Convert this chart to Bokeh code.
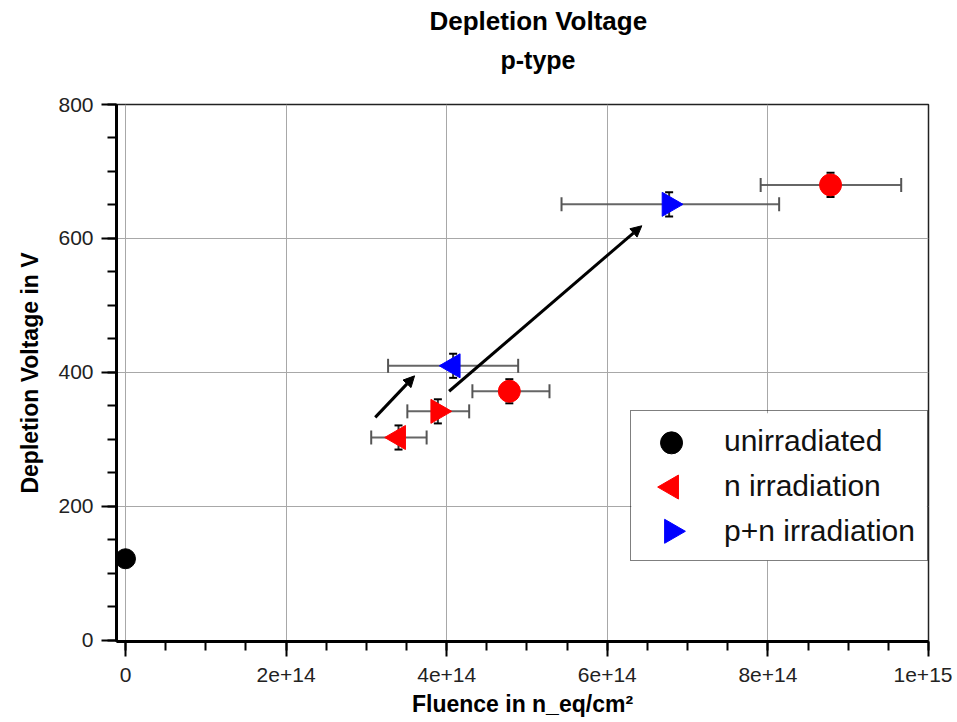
from bokeh.plotting import figure
from bokeh.models import (Range1d, Whisker, ColumnDataSource, Arrow, NormalHead,
                          Legend, LegendItem, Title, FixedTicker)
from bokeh.embed import file_html
from bokeh.resources import INLINE

FONT = "Liberation Sans"

# ---- data ----
unirr_x = [0.0]
unirr_y = [122]

n_left_x = [3.40e14]
n_left_y = [303]
n_left_xlo = [3.06e14]
n_left_xhi = [3.75e14]

n_right_x = [3.89e14]
n_right_y = [342]
n_right_xlo = [3.51e14]
n_right_xhi = [4.28e14]

n_circ_x = [4.78e14, 8.78e14]
n_circ_y = [372, 680]
n_circ_xlo = [4.32e14, 7.91e14]
n_circ_xhi = [5.28e14, 9.66e14]

pn_left_x = [4.08e14]
pn_left_y = [410]
pn_left_xlo = [3.27e14]
pn_left_xhi = [4.89e14]

pn_right_x = [6.77e14]
pn_right_y = [651]
pn_right_xlo = [5.43e14]
pn_right_xhi = [8.14e14]

y_err = 18

arrow_x0 = [3.11e14, 4.03e14]
arrow_y0 = [333, 372]
arrow_x1 = [3.60e14, 6.43e14]
arrow_y1 = [395, 619]

x_ticks = [0, 2e14, 4e14, 6e14, 8e14, 1e15]
x_tick_labels = ["0", "2e+14", "4e+14", "6e+14", "8e+14", "1e+15"]
y_ticks = [0, 200, 400, 600, 800]

legend_labels = ["unirradiated", "n irradiation", "p+n irradiation"]
legend_colors = ["black", "red", "blue"]
legend_angles = [0.0, 1.5708, -1.5708]
legend_markers = ["circle", "triangle", "triangle"]
legend_sizes = [22, 24, 24]
# legend layout anchors (key positions and white backing panel)
legend_key_x = [6.80e14, 6.80e14, 6.80e14]
legend_key_y = [295, 229, 163]
legend_panel = dict(left=6.30e14, right=0.998e15, bottom=119, top=339)

p = figure(width=952, height=720, output_backend="svg", toolbar_location=None,
           x_range=Range1d(-1.12e13, 1.0e15), y_range=Range1d(-1.5, 800),
           min_border_left=116, min_border_right=24, min_border_top=104,
           min_border_bottom=79)
p.title = None
p.background_fill_color = "white"
p.border_fill_color = "white"
p.outline_line_color = "#222222"
p.outline_line_width = 1.5

# axes
for ax in (p.xaxis[0], p.yaxis[0]):
    ax.axis_line_width = 3
    ax.axis_line_color = "black"
    ax.major_tick_line_width = 2
    ax.minor_tick_line_width = 2
    ax.major_tick_out = 15
    ax.major_tick_in = 0
    ax.minor_tick_out = 9
    ax.minor_tick_in = 0
    ax.major_label_text_font = FONT
    ax.major_label_text_font_size = "21px"
    ax.major_label_text_color = "#222222"
    ax.axis_label_text_font = FONT
    ax.axis_label_text_font_size = "23px"
    ax.axis_label_text_font_style = "bold"
    ax.axis_label_text_color = "black"

p.xaxis.ticker = FixedTicker(ticks=x_ticks,
                             minor_ticks=[i * 0.5e14 for i in range(0, 21)])
p.xaxis.major_label_overrides = {t: l for t, l in zip(x_ticks, x_tick_labels)}
p.xaxis.major_label_standoff = 11
p.xaxis.axis_label = "Fluence in n_eq/cm²"
p.xaxis.axis_label_standoff = 6

p.yaxis.ticker = FixedTicker(ticks=y_ticks, minor_ticks=[i * 50 for i in range(0, 17)])
p.yaxis.major_label_standoff = 8
p.yaxis.axis_label = "Depletion Voltage in V"
p.yaxis.axis_label_standoff = 12

p.xgrid.ticker = FixedTicker(ticks=x_ticks)
p.ygrid.ticker = FixedTicker(ticks=y_ticks)
p.grid.grid_line_color = "#a8a8a8"
p.grid.grid_line_width = 1

# white backing panel for the legend (covers grid lines)
p.quad(left=[legend_panel["left"]], right=[legend_panel["right"]],
       bottom=[legend_panel["bottom"]], top=[legend_panel["top"]],
       fill_color="white", line_alpha=0)

# markers
p.scatter(unirr_x, unirr_y, marker="circle", size=20, color="black")
p.scatter(n_left_x, n_left_y, marker="triangle", angle=1.5708, size=24, color="red")
p.scatter(n_right_x, n_right_y, marker="triangle", angle=-1.5708, size=24, color="red")
p.scatter(n_circ_x, n_circ_y, marker="circle", size=22, color="red")
p.scatter(pn_left_x, pn_left_y, marker="triangle", angle=1.5708, size=24, color="blue")
p.scatter(pn_right_x, pn_right_y, marker="triangle", angle=-1.5708, size=24, color="blue")

# error bars
all_x = n_left_x + n_right_x + n_circ_x + pn_left_x + pn_right_x
all_y = n_left_y + n_right_y + n_circ_y + pn_left_y + pn_right_y
all_xlo = n_left_xlo + n_right_xlo + n_circ_xlo + pn_left_xlo + pn_right_xlo
all_xhi = n_left_xhi + n_right_xhi + n_circ_xhi + pn_left_xhi + pn_right_xhi
src = ColumnDataSource(dict(
    x=all_x, y=all_y, xlo=all_xlo, xhi=all_xhi,
    ylo=[v - y_err for v in all_y], yhi=[v + y_err for v in all_y]))

wx = Whisker(base="y", lower="xlo", upper="xhi", source=src, dimension="width",
             line_color="#555555", line_width=2, line_alpha=0.9)
for h in (wx.upper_head, wx.lower_head):
    h.size = 14
    h.line_color = "#555555"
    h.line_width = 2
p.add_layout(wx)

wy = Whisker(base="x", lower="ylo", upper="yhi", source=src, dimension="height",
             line_color="black", line_width=2, line_alpha=0.8)
for h in (wy.upper_head, wy.lower_head):
    h.size = 8
    h.line_color = "black"
    h.line_width = 2
p.add_layout(wy)

# arrows
for x0, y0, x1, y1 in zip(arrow_x0, arrow_y0, arrow_x1, arrow_y1):
    p.add_layout(Arrow(end=NormalHead(size=11, fill_color="black", line_color="black"),
                       x_start=x0, y_start=y0, x_end=x1, y_end=y1,
                       line_width=3, line_color="black"))

# legend: border + labels by Bokeh (transparent), keys drawn as scatter glyphs
dummy_src = ColumnDataSource(dict(x=legend_key_x, y=legend_key_y))
r_dummy = p.scatter("x", "y", source=dummy_src, size=1, fill_alpha=0, line_alpha=0)
legend = Legend(items=[LegendItem(label=lab, renderers=[r_dummy], index=i)
                       for i, lab in enumerate(legend_labels)],
                location=(514, 80))
legend.glyph_width = 70
legend.glyph_height = 45
legend.spacing = 0
legend.padding = 7
legend.margin = 0
legend.label_standoff = 16
legend.label_width = 196
legend.label_height = 45
legend.label_text_font = FONT
legend.label_text_font_size = "30px"
legend.label_text_color = "#111111"
legend.border_line_color = "black"
legend.border_line_width = 1.5
legend.background_fill_color = "white"
legend.background_fill_alpha = 0
p.add_layout(legend, "center")

for i in range(len(legend_labels)):
    p.scatter(legend_key_x[i:i + 1], legend_key_y[i:i + 1], marker=legend_markers[i],
              angle=legend_angles[i], size=legend_sizes[i], color=legend_colors[i])

# titles (spacer closest to the frame, then subtitle, then title)
p.add_layout(Title(text=" ", text_font=FONT, text_font_size="10px", standoff=11),
             "above")
p.add_layout(Title(text="p-type", align="left", offset=384, standoff=13,
                   text_font=FONT, text_font_size="25px", text_font_style="bold",
                   text_color="black"), "above")
p.add_layout(Title(text="Depletion Voltage", align="left", offset=313, standoff=3,
                   text_font=FONT, text_font_size="26px", text_font_style="bold",
                   text_color="black"), "above")

open("out.html", "w").write(file_html(p, INLINE))
